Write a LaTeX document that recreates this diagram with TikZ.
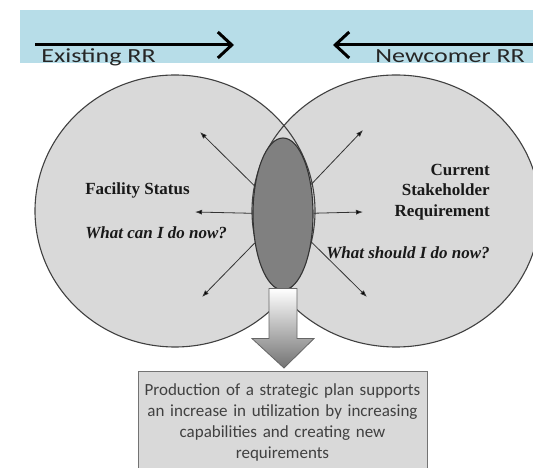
\documentclass[tikz,border=0pt]{standalone}
\usepackage{fontspec}
\setmainfont{Liberation Serif}
\newfontfamily\calibri{Carlito}
\usetikzlibrary{positioning,arrows.meta,shapes.geometric,calc}
\definecolor{bannerblue}{HTML}{B7DDE8}
\definecolor{ringgray}{HTML}{D9D9D9}
\definecolor{coregray}{HTML}{808080}
\definecolor{plantext}{HTML}{404040}
\begin{document}
\begin{tikzpicture}[x=1pt ,y=1pt ,semithick ,
ring/.style ={fill=ringgray},
rim/.style ={draw=black!75, line width=1.1pt},
lbl/.style ={font=\fontsize{17}{20.5}\selectfont\bfseries, text=black!90, inner sep=0pt},
qst/.style ={lbl, font=\fontsize{17}{20.5}\selectfont\bfseries\itshape},
rr/.style ={font=\calibri\fontsize{20}{24}\selectfont, xscale=1.3, text=black!85,
  inner sep=0pt, anchor=base west},
flow/.style ={line width=3pt, -{Straight Barb[length=14pt,width=26pt]}},
spoke/.style ={-{Latex[length=7pt,width=5pt]}, draw=black!80, line width=0.8pt},
core/.style ={ellipse, draw=black!80, line width=1.1pt, fill=coregray,
  minimum width=60, minimum height=152, inner sep=0pt},
planbox/.style ={draw=black!55, fill=ringgray, text=plantext, align=center,
  font=\calibri\fontsize{17}{21}\selectfont, text width=281pt, inner xsep=4pt, inner ysep=12pt}
]
\useasboundingbox (0,0) rectangle (533,468);
\clip (0,0) rectangle (533,468);
\fill[bannerblue] (20,405) rectangle (533,458);
\coordinate (exStart) at (35,423);
\coordinate (exEnd) at (234,423);
\coordinate (nwStart) at (545,423);
\coordinate (nwEnd) at (333,423);
\draw[flow] (exStart) -- (exEnd);
\draw[flow] (nwStart) -- (nwEnd);
\node[rr] (exist) at (41,405) {Existing RR};
\node[rr] (newc) at (375,405) {Newcomer RR};

\fill[ring] (175,257) ellipse [x radius=140, y radius=136];
\fill[ring] (396,257) ellipse [x radius=144, y radius=136];
\draw[rim] (175,257) ellipse [x radius=140, y radius=136];
\draw[rim] (396,257) ellipse [x radius=144, y radius=136];

\node[core] (core) at (283,254) {};
\coordinate (ulTip) at (200,336);
\coordinate (lTip) at (195,256);
\coordinate (llTip) at (202,171);
\coordinate (urTip) at (363,338);
\coordinate (rTip) at (363,256);
\coordinate (lrTip) at (367,171);
\draw[spoke] (core) edge (ulTip) edge (lTip) edge (llTip)
    edge (urTip) edge (rTip) edge (lrTip);

\node[lbl, anchor=west] (fstat) at (85,278) {Facility Status};
\node[qst, below=43pt of fstat.west, anchor=west] (fq) {What can I do now?};
\node[lbl, align=right, anchor=east] (curr) at (490,276) {Current\\Stakeholder\\Requirement};
\node[qst, below=61pt of curr.east, anchor=east] (shq) {What should I do now?};

\node[planbox, anchor=north] (plan) at (282.5,97)
  {Production of a strategic plan supports\\an increase in utilization by increasing\\capabilities and creating new\\requirements};
\shade[draw=black!60, line width=0.8pt, top color=white, bottom color=black!55]
  ($(core.south)+(-14,2)$) -- ($(core.south)+(14,2)$) -- ($(core.south)+(14,-48)$)
  -- ($(core.south)+(31,-48)$) -- ($(plan.north)+(1.5,3)$) -- ($(core.south)+(-31,-48)$)
  -- ($(core.south)+(-14,-48)$) -- cycle;
\end{tikzpicture}
\end{document}
